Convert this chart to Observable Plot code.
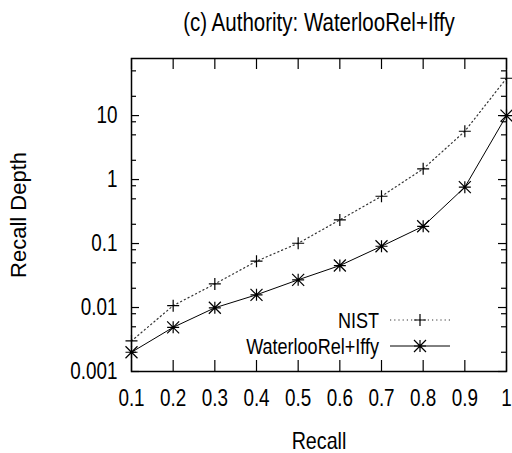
<!DOCTYPE html>
<html>
<head>
<meta charset="utf-8">
<script src="https://cdn.jsdelivr.net/npm/d3@7"></script>
<script src="https://cdn.jsdelivr.net/npm/@observablehq/plot@0.6"></script>
<style>
  html, body { margin: 0; padding: 0; background: #fff; }
  svg { display: block; }
</style>
</head>
<body>
<div id="chart"></div>
<script>
// ---- data ----
const recall = [0.1, 0.2, 0.3, 0.4, 0.5, 0.6, 0.7, 0.8, 0.9, 1.0];
const nist = [0.0030, 0.0107, 0.0234, 0.053, 0.101, 0.234, 0.548, 1.47, 5.69, 38.3];
const waterloo = [0.0020, 0.0049, 0.0099, 0.0158, 0.0271, 0.0453, 0.0907, 0.186, 0.76, 10];
const seriesNames = ["NIST", "WaterlooRel+Iffy"];
const xTicks = [0.1, 0.2, 0.3, 0.4, 0.5, 0.6, 0.7, 0.8, 0.9, 1];
const yTicks = [0.001, 0.01, 0.1, 1, 10];
const yMinorTicks = [0.002, 0.005, 0.008, 0.02, 0.05, 0.08, 0.2, 0.5, 0.8, 2, 5, 8, 20, 50];
const titleText = "(c) Authority: WaterlooRel+Iffy";
const xLabel = "Recall";
const yLabel = "Recall Depth";

const nistData = recall.map((r, i) => ({recall: r, depth: nist[i]}));
const watData = recall.map((r, i) => ({recall: r, depth: waterloo[i]}));

// ---- layout ----
const W = 512, H = 453;
const mL = 131, mR = 6, mT = 58, mB = 82;
const frameW = W - mL - mR, frameH = H - mT - mB;
const FONT = "'Liberation Sans Narrow', 'Arial Narrow', 'Liberation Sans', Arial, sans-serif";
const NARROW = 0.82; // horizontal condensation of text (gnuplot Helvetica-narrow look)

// gnuplot-like symbols (r = half arm length)
const plusSym = {draw(ctx, size) { const r = Math.sqrt(size / Math.PI);
  ctx.moveTo(-r, 0); ctx.lineTo(r, 0); ctx.moveTo(0, -r); ctx.lineTo(0, r); }};
const starSym = {draw(ctx, size) { const r = Math.sqrt(size / Math.PI);
  ctx.moveTo(-r, 0); ctx.lineTo(r, 0); ctx.moveTo(0, -r); ctx.lineTo(0, r);
  ctx.moveTo(-r, -r); ctx.lineTo(r, r); ctx.moveTo(-r, r); ctx.lineTo(r, -r); }};

function legend(index, scales, values, dimensions) {
  const {width, marginRight, height, marginBottom} = dimensions;
  const right = width - marginRight;
  const bottom = height - marginBottom;
  const g = d3.create("svg:g");
  const rows = [
    {name: seriesNames[0], dy: -51, dash: "1.2,3", sym: "plus"},
    {name: seriesNames[1], dy: -25, dash: null, sym: "star"}
  ];
  for (const row of rows) {
    const y = bottom + row.dy;
    const x1 = right - 116, x2 = right - 56, xm = right - 86;
    g.append("text").attr("x", right - 127).attr("y", y).attr("dy", "0.35em")
      .attr("text-anchor", "end").attr("font-size", 22).attr("font-family", FONT)
      .attr("fill", "black").text(row.name);
    const ln = g.append("line").attr("x1", x1).attr("x2", x2).attr("y1", y).attr("y2", y)
      .attr("stroke", "black").attr("stroke-width", row.dash ? 1.2 : 1);
    if (row.dash) ln.attr("stroke-dasharray", row.dash).attr("stroke", "#333");
    const r = 6;
    let d = `M${xm - r},${y}H${xm + r}M${xm},${y - r}V${y + r}`;
    if (row.sym === "star") d += `M${xm - r},${y - r}L${xm + r},${y + r}M${xm - r},${y + r}L${xm + r},${y - r}`;
    g.append("path").attr("d", d).attr("stroke", "black").attr("stroke-width", 1.2).attr("fill", "none");
  }
  return g.node();
}

const chart = Plot.plot({
  width: W, height: H,
  marginLeft: mL, marginRight: mR, marginTop: mT, marginBottom: mB,
  style: {fontFamily: FONT, background: "white", color: "black"},
  x: {domain: [0.1, 1], axis: null},
  y: {type: "log", domain: [0.001, 78], axis: null},
  marks: [
    // tick marks, inward and mirrored
    Plot.tickX(xTicks, {x: d => d, insetTop: frameH - 11, stroke: "black", strokeWidth: 1.2}),
    Plot.tickX(xTicks, {x: d => d, insetBottom: frameH - 11, stroke: "black", strokeWidth: 1.2}),
    Plot.tickY(yTicks, {y: d => d, insetRight: frameW - 8, stroke: "black", strokeWidth: 1.2}),
    Plot.tickY(yTicks, {y: d => d, insetLeft: frameW - 8, stroke: "black", strokeWidth: 1.2}),
    Plot.tickY(yMinorTicks, {y: d => d, insetRight: frameW - 5, stroke: "black", strokeWidth: 1.2}),
    Plot.tickY(yMinorTicks, {y: d => d, insetLeft: frameW - 5, stroke: "black", strokeWidth: 1.2}),
    // tick labels
    Plot.axisX(xTicks, {tickSize: 0, tickPadding: 18, fontSize: 23, tickFormat: d => String(d), anchor: "bottom", label: null}),
    Plot.axisY(yTicks, {tickSize: 0, tickPadding: 14, fontSize: 23, tickFormat: d => String(d), anchor: "left", label: null}),
    // series
    Plot.line(nistData, {x: "recall", y: "depth", stroke: "#333", strokeWidth: 1.2, strokeDasharray: "1.2,3"}),
    Plot.line(watData, {x: "recall", y: "depth", stroke: "black", strokeWidth: 1}),
    Plot.dot(nistData, {x: "recall", y: "depth", symbol: plusSym, r: 6, fill: "none", stroke: "black", strokeWidth: 1.2}),
    Plot.dot(watData, {x: "recall", y: "depth", symbol: starSym, r: 6, fill: "none", stroke: "black", strokeWidth: 1.2}),
    Plot.frame({stroke: "black", strokeWidth: 1.5}),
    // labels
    Plot.text([titleText], {frameAnchor: "top", textAnchor: "middle", dy: -36, fontSize: 25, lineAnchor: "middle", fill: "black"}),
    Plot.text([xLabel], {frameAnchor: "bottom", textAnchor: "middle", dy: 70, fontSize: 24, lineAnchor: "middle", fill: "black"}),
    Plot.text([yLabel], {frameAnchor: "left", textAnchor: "middle", dx: -113, rotate: -90, fontSize: 22, lineAnchor: "middle", fill: "black", className: "ylab"}),
    legend
  ]
});
document.getElementById("chart").appendChild(chart);

// condense horizontal texts (keeps them as real text); rotated label stays normal width
chart.querySelectorAll("text").forEach(t => {
  if (t.closest(".ylab")) return;
  const len = t.getComputedTextLength();
  if (len > 0) {
    t.setAttribute("textLength", (len * NARROW).toFixed(2));
    t.setAttribute("lengthAdjust", "spacingAndGlyphs");
  }
});
</script>
</body>
</html>
